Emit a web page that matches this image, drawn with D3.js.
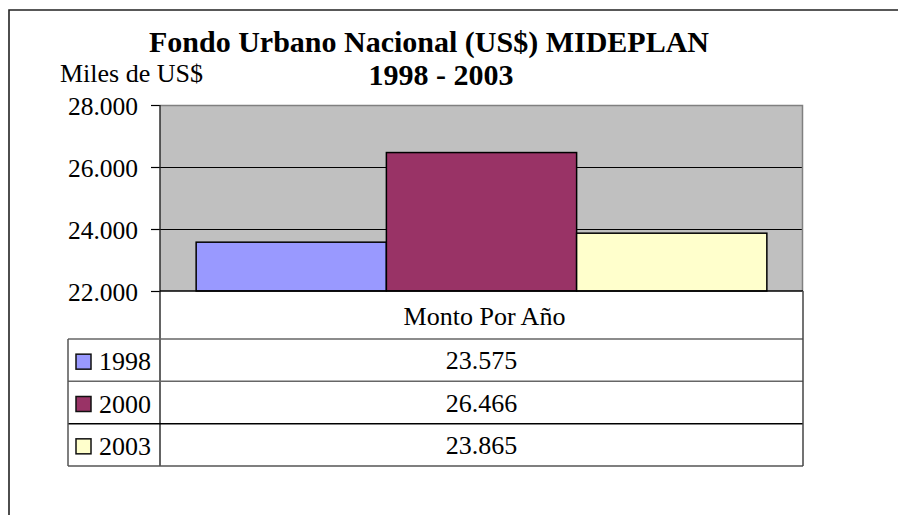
<!DOCTYPE html>
<html>
<head>
<meta charset="utf-8">
<script src="https://cdn.jsdelivr.net/npm/d3@7"></script>
<style>
  html, body { margin: 0; padding: 0; background: #fff; }
  svg { display: block; }
</style>
</head>
<body>
<svg id="chart" width="898" height="515"></svg>
<script>
// Fondo Urbano Nacional, miles de US$
const years = ["1998", "2000", "2003"];
const amounts = [23575, 26466, 23865];
const colors = ["#9999FF", "#993366", "#FFFFCC"];
const yTicks = [22000, 24000, 26000, 28000];
const categoryLabel = "Monto Por Año";
const titleLine1 = "Fondo Urbano Nacional (US$) MIDEPLAN";
const titleLine2 = "1998 - 2003";
const unitLabel = "Miles de US$";

const SERIF = "'Liberation Serif', 'Times New Roman', Times, serif";

const es = d3.formatLocale({ decimal: ",", thousands: ".", grouping: [3], currency: ["$", ""] });
const fmt = es.format(",.0f");

const svg = d3.select("#chart").style("font-family", SERIF);

// plot and table geometry
const plot = { left: 160, right: 803, top: 105, bottom: 291 };
const table = { left: 68, headerBottom: 339, bottom: 466 };

// outer frame (only top and left edges fall inside the view)
svg.append("path")
  .attr("d", "M9,515 V10 H898")
  .attr("fill", "none").attr("stroke", "#222").attr("stroke-width", 1.6);

const y = d3.scaleLinear().domain([22000, 28000]).range([plot.bottom, plot.top]);
const x = d3.scaleBand().domain(years).range([plot.left, plot.right])
  .paddingInner(0).paddingOuter(0.19);

// plot background
svg.append("rect")
  .attr("x", plot.left).attr("y", plot.top)
  .attr("width", plot.right - plot.left).attr("height", plot.bottom - plot.top)
  .attr("fill", "#C0C0C0");

// gridlines
svg.append("g").selectAll("line")
  .data(yTicks.filter(t => t > 22000 && t < 28000))
  .join("line")
  .attr("x1", plot.left).attr("x2", plot.right)
  .attr("y1", d => Math.round(y(d)) + 0.5).attr("y2", d => Math.round(y(d)) + 0.5)
  .attr("stroke", "#000").attr("stroke-width", 1);

// plot area border (top and right)
svg.append("path")
  .attr("d", `M${plot.left},${plot.top + 0.5} H${plot.right - 0.5} V${plot.bottom}`)
  .attr("fill", "none").attr("stroke", "#808080").attr("stroke-width", 1.5);

// bars
svg.append("g").selectAll("rect")
  .data(years.map((yr, i) => ({ yr, v: amounts[i], c: colors[i] })))
  .join("rect")
  .attr("x", d => x(d.yr))
  .attr("width", x.bandwidth())
  .attr("y", d => y(d.v))
  .attr("height", d => y(22000) - y(d.v))
  .attr("fill", d => d.c)
  .attr("stroke", "#000").attr("stroke-width", 1.5);

// y axis
const axis = svg.append("g")
  .attr("transform", `translate(${plot.left},0)`)
  .call(d3.axisLeft(y).tickValues(yTicks).tickFormat(fmt).tickSize(9).tickPadding(13));
axis.attr("font-family", SERIF).attr("font-size", 25.5);
axis.select(".domain").remove();
axis.selectAll(".tick line").attr("stroke", "#000").attr("stroke-width", 1.2);
axis.selectAll(".tick text")
  .style("font-family", SERIF)
  .attr("fill", "#000").attr("dy", "0.36em");

// vertical axis line down through the table
svg.append("line")
  .attr("x1", plot.left).attr("x2", plot.left)
  .attr("y1", plot.top).attr("y2", table.bottom)
  .attr("stroke", "#222").attr("stroke-width", 1.4);

// data table
const rows = d3.scaleBand().domain(years).range([table.headerBottom, table.bottom]);
const tg = svg.append("g").style("font-family", SERIF).attr("font-size", 26);

// horizontal rules
const hRules = [{ y: plot.bottom, x1: plot.left, c: "#000" }]
  .concat(years.map((yr, i) => ({ y: rows(yr), x1: table.left, c: i === 2 ? "#000" : "#666" })))
  .concat([{ y: table.bottom, x1: table.left, c: "#555" }]);
tg.selectAll("line.h").data(hRules).join("line").attr("class", "h")
  .attr("x1", d => d.x1).attr("x2", plot.right)
  .attr("y1", d => d.y).attr("y2", d => d.y)
  .attr("stroke", d => d.c).attr("stroke-width", 1.5);

// vertical rules
tg.append("line")
  .attr("x1", table.left).attr("x2", table.left)
  .attr("y1", table.headerBottom).attr("y2", table.bottom)
  .attr("stroke", "#555").attr("stroke-width", 1.5);
tg.append("line")
  .attr("x1", plot.right).attr("x2", plot.right)
  .attr("y1", plot.bottom).attr("y2", table.bottom)
  .attr("stroke", "#444").attr("stroke-width", 1.5);

const midX = (plot.left + plot.right) / 2;

// header
tg.append("text")
  .attr("x", midX + 3).attr("y", 325)
  .attr("text-anchor", "middle")
  .text(categoryLabel);

// values
tg.selectAll("text.val").data(amounts).join("text").attr("class", "val")
  .attr("x", midX).attr("y", (d, i) => rows(years[i]) + rows.bandwidth() / 2 + 9)
  .attr("text-anchor", "middle")
  .text(d => fmt(d));

// legend keys and labels
tg.selectAll("rect.key").data(years).join("rect").attr("class", "key")
  .attr("x", 76).attr("y", d => rows(d) + rows.bandwidth() / 2 - 6)
  .attr("width", 15).attr("height", 15)
  .attr("fill", (d, i) => colors[i]).attr("stroke", "#111").attr("stroke-width", 1.5);
tg.selectAll("text.lbl").data(years).join("text").attr("class", "lbl")
  .attr("x", 99).attr("y", d => rows(d) + rows.bandwidth() / 2 + 10)
  .text(d => d);

// titles
const tt = svg.append("g").style("font-family", SERIF).attr("font-weight", "bold").attr("font-size", 30);
tt.append("text")
  .attr("x", 429).attr("y", 52)
  .attr("text-anchor", "middle")
  .text(titleLine1);
tt.append("text")
  .attr("x", 441).attr("y", 85)
  .attr("text-anchor", "middle")
  .text(titleLine2);
svg.append("text")
  .attr("x", 60).attr("y", 82)
  .attr("font-size", 26)
  .text(unitLabel);
</script>
</body>
</html>
